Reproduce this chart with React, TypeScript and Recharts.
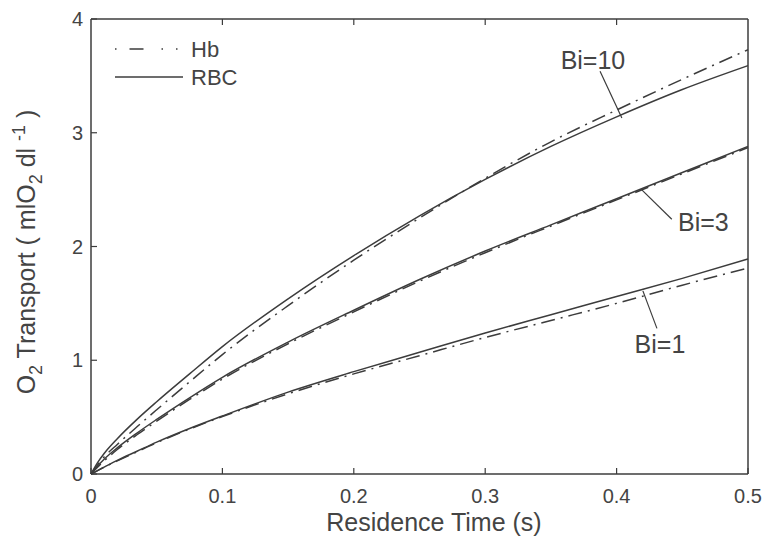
import React from "react"
import {
  LineChart,
  Line,
  XAxis,
  YAxis,
  ReferenceLine,
  ReferenceDot,
} from "recharts"

// residence time (s)
const time = [0, 0.005, 0.01, 0.02, 0.035, 0.05, 0.075, 0.1, 0.15, 0.2, 0.25, 0.3, 0.35, 0.4, 0.45, 0.5]

// O2 transport, RBC model (solid) and Hb model (dash-dot)
const rbcBi10 = [0, 0.1, 0.18, 0.31, 0.48, 0.635, 0.88, 1.12, 1.54, 1.92, 2.27, 2.59, 2.88, 3.14, 3.38, 3.59]
const hbBi10 = [0, 0.08, 0.15, 0.26, 0.415, 0.565, 0.81, 1.05, 1.48, 1.88, 2.25, 2.6, 2.92, 3.2, 3.47, 3.73]
const rbcBi3 = [0, 0.07, 0.13, 0.23, 0.36, 0.48, 0.67, 0.85, 1.16, 1.44, 1.71, 1.96, 2.19, 2.42, 2.65, 2.88]
const hbBi3 = [0, 0.06, 0.115, 0.215, 0.345, 0.465, 0.655, 0.835, 1.145, 1.425, 1.695, 1.945, 2.18, 2.41, 2.64, 2.87]
const rbcBi1 = [0, 0.03, 0.06, 0.12, 0.2, 0.28, 0.4, 0.51, 0.72, 0.9, 1.07, 1.24, 1.4, 1.56, 1.72, 1.89]
const hbBi1 = [0, 0.03, 0.06, 0.115, 0.195, 0.275, 0.395, 0.505, 0.705, 0.88, 1.04, 1.2, 1.35, 1.5, 1.66, 1.81]

const xTicks = [0, 0.1, 0.2, 0.3, 0.4, 0.5]
const yTicks = [0, 1, 2, 3, 4]

// curve labels with leader lines (data coords)
const curveLabels = [
  { text: "Bi=10", x: 0.382, y: 3.64, from: [0.3874, 3.54], to: [0.404, 3.13] },
  { text: "Bi=3", x: 0.466, y: 2.21, from: [0.419, 2.5], to: [0.442, 2.24] },
  { text: "Bi=1", x: 0.433, y: 1.14, from: [0.42, 1.61], to: [0.4307, 1.28] },
]

const data = time.map((t, i) => ({
  t,
  rbc10: rbcBi10[i],
  hb10: hbBi10[i],
  rbc3: rbcBi3[i],
  hb3: hbBi3[i],
  rbc1: rbcBi1[i],
  hb1: hbBi1[i],
}))

const FONT = "'Liberation Sans', Arial, Helvetica, sans-serif"
const INK = "#3c3c3c"
const TEXT = "#444"
const DASHDOT = "14 6 2 6"

function BottomTick({ x, y, payload }: any) {
  return (
    <g>
      <line x1={x} y1={y} x2={x} y2={y - 6} stroke={INK} strokeWidth={1.2} />
      <text x={x} y={y + 29} textAnchor="middle" fontSize={20} fontFamily={FONT} fill={TEXT}>
        {payload.value}
      </text>
    </g>
  )
}

function LeftTick({ x, y, payload }: any) {
  return (
    <g>
      <line x1={x} y1={y} x2={x + 6} y2={y} stroke={INK} strokeWidth={1.2} />
      <text x={x - 8} y={y + 7} textAnchor="end" fontSize={20} fontFamily={FONT} fill={TEXT}>
        {payload.value}
      </text>
    </g>
  )
}

function TopTick({ x, y }: any) {
  return <line x1={x} y1={y} x2={x} y2={y + 6} stroke={INK} strokeWidth={1.2} />
}

function RightTick({ x, y }: any) {
  return <line x1={x} y1={y} x2={x - 6} y2={y} stroke={INK} strokeWidth={1.2} />
}

function LegendBox() {
  return (
    <g>
      <line x1={115} y1={49} x2={183} y2={49} stroke={INK} strokeWidth={1.5} strokeDasharray="1.5 13 14 18 1.5 13 1.5 8" />
      <text x={191} y={57} fontSize={22} fontFamily={FONT} fill={TEXT}>Hb</text>
      <line x1={115} y1={77} x2={183} y2={77} stroke={INK} strokeWidth={1.5} />
      <text x={191} y={85} fontSize={22} fontFamily={FONT} fill={TEXT}>RBC</text>
    </g>
  )
}

function YTitle() {
  return (
    <text
      transform="translate(35, 252) rotate(-90)"
      textAnchor="middle"
      fontSize={25}
      fontFamily={FONT}
      fill={TEXT}
    >
      O<tspan fontSize={18} dy={7}>2</tspan>
      <tspan dy={-7}> Transport ( mlO</tspan>
      <tspan fontSize={18} dy={7}>2</tspan>
      <tspan dy={-7}> dl </tspan>
      <tspan fontSize={18} dy={-10}>-1</tspan>
      <tspan dy={10}> )</tspan>
    </text>
  )
}

export default function App() {
  return (
    <div style={{ position: "absolute", left: 0, top: 0, width: 764, height: 542, background: "#fff" }}>
      <LineChart width={764} height={542} data={data} margin={{ top: 18, right: 15, bottom: 0, left: 0 }}>
        <XAxis
          dataKey="t"
          type="number"
          domain={[0, 0.5]}
          ticks={xTicks}
          height={68}
          tickSize={0}
          tickMargin={0}
          tickLine={false}
          tick={<BottomTick />}
          axisLine={{ stroke: INK, strokeWidth: 1.5 }}
          interval={0}
        />
        <XAxis
          xAxisId="top"
          orientation="top"
          dataKey="t"
          type="number"
          domain={[0, 0.5]}
          ticks={xTicks.slice(1, -1)}
          height={1}
          tickSize={0}
          tickMargin={0}
          tickLine={false}
          tick={<TopTick />}
          axisLine={{ stroke: INK, strokeWidth: 1.5 }}
          interval={0}
        />
        <YAxis
          type="number"
          domain={[0, 4]}
          ticks={yTicks}
          width={91}
          tickSize={0}
          tickMargin={0}
          tickLine={false}
          tick={<LeftTick />}
          axisLine={{ stroke: INK, strokeWidth: 1.5 }}
          interval={0}
        />
        <YAxis
          yAxisId="right"
          orientation="right"
          type="number"
          domain={[0, 4]}
          ticks={yTicks.slice(1, -1)}
          width={1}
          tickSize={0}
          tickMargin={0}
          tickLine={false}
          tick={<RightTick />}
          axisLine={{ stroke: INK, strokeWidth: 1.5 }}
          interval={0}
        />
        <Line dataKey="hb10" type="monotone" stroke={INK} strokeWidth={1.5} strokeDasharray={DASHDOT} dot={false} isAnimationActive={false} />
        <Line dataKey="rbc10" type="monotone" stroke={INK} strokeWidth={1.5} dot={false} isAnimationActive={false} />
        <Line dataKey="hb3" type="monotone" stroke={INK} strokeWidth={1.5} strokeDasharray={DASHDOT} dot={false} isAnimationActive={false} />
        <Line dataKey="rbc3" type="monotone" stroke={INK} strokeWidth={1.5} dot={false} isAnimationActive={false} />
        <Line dataKey="hb1" type="monotone" stroke={INK} strokeWidth={1.5} strokeDasharray={DASHDOT} dot={false} isAnimationActive={false} />
        <Line dataKey="rbc1" type="monotone" stroke={INK} strokeWidth={1.5} dot={false} isAnimationActive={false} />
        {curveLabels.map((c) => (
          <ReferenceLine
            key={c.text + "-lead"}
            segment={[{ x: c.from[0], y: c.from[1] }, { x: c.to[0], y: c.to[1] }]}
            stroke={INK}
            strokeWidth={1.2}
          />
        ))}
        {curveLabels.map((c) => (
          <ReferenceDot
            key={c.text}
            x={c.x}
            y={c.y}
            r={0}
            stroke="none"
            fill="none"
            label={{ value: c.text, position: "center", fontSize: 25, fontFamily: FONT, fill: TEXT }}
          />
        ))}
        <LegendBox />
        <YTitle />
        <text x={434} y={531} textAnchor="middle" fontSize={25} fontFamily={FONT} fill={TEXT}>
          Residence Time (s)
        </text>
      </LineChart>
    </div>
  )
}
